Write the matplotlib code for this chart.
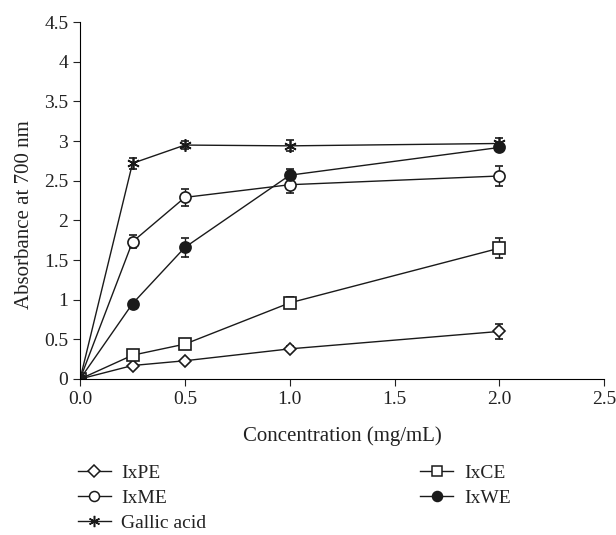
import numpy as np
import matplotlib.pyplot as plt
from matplotlib.lines import Line2D

plt.rcParams['font.family'] = 'Liberation Serif'

conc = [0, 0.25, 0.5, 1.0, 2.0]

ixpe = [0, 0.17, 0.23, 0.38, 0.60]
ixpe_err = [0, 0.02, 0.02, 0.03, 0.09]
ixme = [0, 1.73, 2.29, 2.45, 2.56]
ixme_err = [0, 0.08, 0.11, 0.11, 0.12]
gallic = [0, 2.72, 2.95, 2.94, 2.97]
gallic_err = [0, 0.07, 0.05, 0.07, 0.07]
ixce = [0, 0.30, 0.44, 0.96, 1.65]
ixce_err = [0, 0.03, 0.03, 0.07, 0.13]
ixwe = [0, 0.95, 1.66, 2.57, 2.92]
ixwe_err = [0, 0.03, 0.12, 0.08, 0.05]

names = ['IxPE', 'IxME', 'Gallic acid', 'IxCE', 'IxWE']
series = [ixpe, ixme, gallic, ixce, ixwe]
errs = [ixpe_err, ixme_err, gallic_err, ixce_err, ixwe_err]
# marker, facecolor, size
styles = [('D', 'white', 6.5), ('o', 'white', 8), ((6, 2, 0), 'k', 9),
          ('s', 'white', 8), ('o', '#1a1a1a', 8)]

fig = plt.figure(figsize=(6.16, 5.35), dpi=100)
ax = fig.add_axes([0.130, 0.2916, 0.851, 0.667])

c = '#1a1a1a'
handles = []
for y, e, (m, fc, s) in zip(series, errs, styles):
    ax.errorbar(conc, y, yerr=e, marker=m, mfc=fc, ms=s, color=c, mec=c, mew=1.2,
                lw=1.0, capsize=3, elinewidth=1.0, capthick=1.0)
    handles.append(Line2D([], [], marker=m, mfc=fc, ms=s * 0.9, color=c, mec=c, mew=1.1, lw=1.0))

ax.set_xlim(0, 2.5)
ax.set_ylim(0, 4.5)
ax.set_xticks(np.arange(0, 2.51, 0.5))
ax.set_xticklabels(['0.0', '0.5', '1.0', '1.5', '2.0', '2.5'])
ax.set_yticks(np.arange(0, 4.51, 0.5))
ax.set_yticklabels(['0', '0.5', '1', '1.5', '2', '2.5', '3', '3.5', '4', '4.5'])
ax.spines['top'].set_visible(False)
ax.spines['right'].set_visible(False)
ax.tick_params(labelsize=14, colors='#222222', length=5)
ax.set_xlabel('Concentration (mg/mL)', fontsize=15, color='#222222', labelpad=13)
ax.set_ylabel('Absorbance at 700 nm', fontsize=15, color='#222222')
ax.yaxis.set_label_coords(-0.088, 0.462)

leg = fig.legend(handles, names,
                 loc='upper left', bbox_to_anchor=(0.126, 0.132), ncol=2,
                 frameon=False, fontsize=14, handlelength=1.7, handletextpad=0.55,
                 columnspacing=11.0, labelspacing=0.38, borderaxespad=0, borderpad=0)
for t in leg.get_texts():
    t.set_color('#222222')

fig.savefig('out.png', dpi=100)
